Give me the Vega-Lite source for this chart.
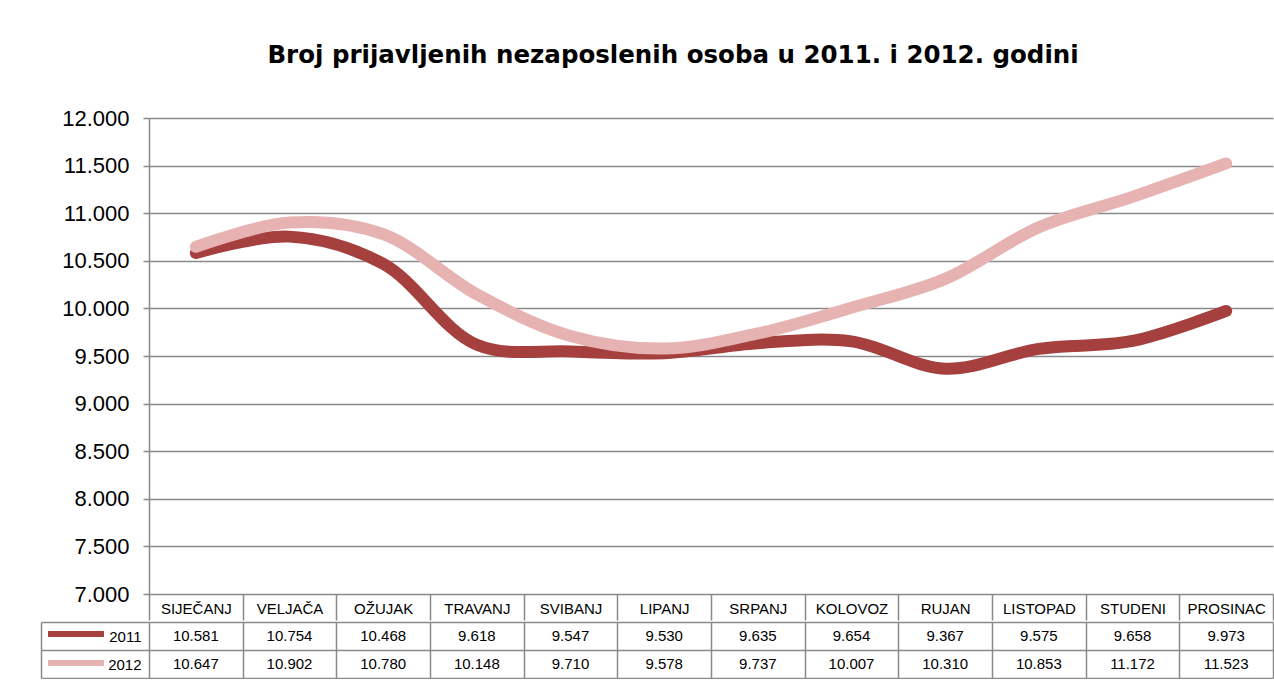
{
  "$schema": "https://vega.github.io/schema/vega-lite/v6.json",
  "padding": {"left": 40, "top": 42, "right": 0, "bottom": 0},
  "config": {
    "font": "Liberation Sans",
    "locale": {"number": {"decimal": ",", "thousands": ".", "grouping": [3], "currency": ["", ""]}},
    "view": {"stroke": null},
    "concat": {"spacing": -6}
  },
  "datasets": {
    "vals": [
      {"month": "SIJEČANJ", "year": "2011", "value": 10581},
      {"month": "VELJAČA", "year": "2011", "value": 10754},
      {"month": "OŽUJAK", "year": "2011", "value": 10468},
      {"month": "TRAVANJ", "year": "2011", "value": 9618},
      {"month": "SVIBANJ", "year": "2011", "value": 9547},
      {"month": "LIPANJ", "year": "2011", "value": 9530},
      {"month": "SRPANJ", "year": "2011", "value": 9635},
      {"month": "KOLOVOZ", "year": "2011", "value": 9654},
      {"month": "RUJAN", "year": "2011", "value": 9367},
      {"month": "LISTOPAD", "year": "2011", "value": 9575},
      {"month": "STUDENI", "year": "2011", "value": 9658},
      {"month": "PROSINAC", "year": "2011", "value": 9973},
      {"month": "SIJEČANJ", "year": "2012", "value": 10647},
      {"month": "VELJAČA", "year": "2012", "value": 10902},
      {"month": "OŽUJAK", "year": "2012", "value": 10780},
      {"month": "TRAVANJ", "year": "2012", "value": 10148},
      {"month": "SVIBANJ", "year": "2012", "value": 9710},
      {"month": "LIPANJ", "year": "2012", "value": 9578},
      {"month": "SRPANJ", "year": "2012", "value": 9737},
      {"month": "KOLOVOZ", "year": "2012", "value": 10007},
      {"month": "RUJAN", "year": "2012", "value": 10310},
      {"month": "LISTOPAD", "year": "2012", "value": 10853},
      {"month": "STUDENI", "year": "2012", "value": 11172},
      {"month": "PROSINAC", "year": "2012", "value": 11523}
    ]
  },
  "vconcat": [
    {
      "width": 1124,
      "height": 476,
      "title": {"text": "Broj prijavljenih nezaposlenih osoba u 2011. i 2012. godini", "font": "DejaVu Sans", "fontSize": 24.5, "fontWeight": "bold", "color": "black", "anchor": "middle", "dx": -38, "offset": 39},
      "data": {"name": "vals"},
      "mark": {"type": "line", "interpolate": "catmull-rom", "strokeWidth": 12, "strokeCap": "round", "strokeJoin": "round"},
      "encoding": {
        "x": {
          "field": "month", "type": "nominal", "bandPosition": 0.5,
          "sort": ["SIJEČANJ", "VELJAČA", "OŽUJAK", "TRAVANJ", "SVIBANJ", "LIPANJ", "SRPANJ", "KOLOVOZ", "RUJAN", "LISTOPAD", "STUDENI", "PROSINAC"],
          "scale": {"type": "band", "paddingInner": 0, "paddingOuter": 0},
          "axis": {"orient": "bottom", "title": null, "domain": false, "ticks": true, "tickBand": "extent", "tickSize": 26, "tickColor": "#8a8a8a", "tickWidth": 1.5, "labelAngle": 0, "labelFontSize": 15, "labelColor": "black", "labelPadding": -19, "grid": false}
        },
        "y": {
          "field": "value", "type": "quantitative",
          "scale": {"domain": [7000, 12000], "nice": false, "zero": false},
          "axis": {"values": [7000, 7500, 8000, 8500, 9000, 9500, 10000, 10500, 11000, 11500, 12000], "format": ",d", "title": null, "grid": true, "gridColor": "#8a8a8a", "gridWidth": 1.5, "domain": true, "domainColor": "#8a8a8a", "domainWidth": 1.5, "tickSize": 6, "tickColor": "#8a8a8a", "tickWidth": 1.5, "labelFontSize": 22, "labelColor": "black", "labelPadding": 14}
        },
        "color": {
          "field": "year", "type": "nominal",
          "scale": {"domain": ["2011", "2012"], "range": ["#A5403F", "#E6B3B2"]},
          "legend": {"orient": "none", "legendX": -104, "legendY": 502, "title": null, "symbolType": "stroke", "symbolSize": 3136, "symbolStrokeWidth": 6, "labelExpr": "''", "clipHeight": 28, "rowPadding": 1, "padding": 0}
        }
      }
    },
    {
      "width": 1124,
      "height": 56,
      "data": {"name": "vals"},
      "mark": {"type": "text", "fontSize": 15, "color": "black"},
      "encoding": {
        "x": {
          "field": "month", "type": "nominal", "bandPosition": 0.5,
          "sort": ["SIJEČANJ", "VELJAČA", "OŽUJAK", "TRAVANJ", "SVIBANJ", "LIPANJ", "SRPANJ", "KOLOVOZ", "RUJAN", "LISTOPAD", "STUDENI", "PROSINAC"],
          "scale": {"type": "band", "paddingInner": 0, "paddingOuter": 0},
          "axis": {"orient": "top", "title": null, "labels": false, "ticks": false, "domain": false, "grid": true, "tickBand": "extent", "gridColor": "#8a8a8a", "gridWidth": 1.5}
        },
        "y": {
          "field": "year", "type": "nominal", "sort": ["2011", "2012"],
          "scale": {"type": "band", "paddingInner": 0, "paddingOuter": 0},
          "axis": {"title": null, "offset": 108, "tickSize": -108, "tickBand": "extent", "tickColor": "#8a8a8a", "tickWidth": 1.5, "domain": true, "domainColor": "#8a8a8a", "domainWidth": 1.5, "grid": true, "gridColor": "#8a8a8a", "gridWidth": 1.5, "labelFontSize": 15, "labelColor": "black", "labelPadding": 8}
        },
        "text": {"field": "value", "type": "quantitative", "format": ",d"}
      }
    }
  ]
}
